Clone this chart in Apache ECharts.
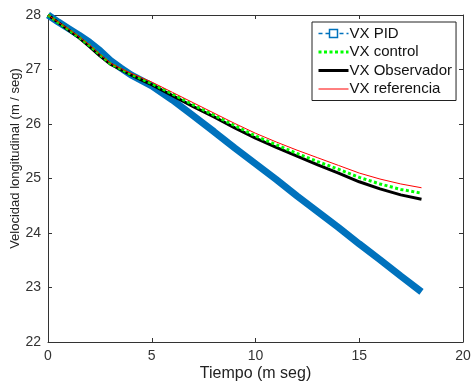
<!DOCTYPE html>
<html>
<head>
<meta charset="utf-8">
<script src="https://cdn.jsdelivr.net/npm/echarts@6/dist/echarts.min.js"></script>
<style>html,body{margin:0;padding:0;background:#fff}#c{width:472px;height:387px}</style>
</head>
<body>
<div id="c"></div>
<script>
const times = [0,0.5,1,1.5,2,2.5,3,3.5,4,4.5,5,6,7,8,9,10,11,12,13,14,15,16,17,18];
const vxPID = [28,27.87,27.75,27.63,27.5,27.35,27.17,27.03,26.9,26.8,26.7,26.44,26.15,25.86,25.56,25.27,24.98,24.68,24.39,24.1,23.8,23.51,23.21,22.92];
const vxControl = [28,27.86,27.73,27.59,27.44,27.27,27.11,27.01,26.91,26.83,26.74,26.55,26.35,26.16,25.97,25.78,25.62,25.46,25.31,25.17,25.02,24.9,24.8,24.73];
const vxObservador = [28,27.86,27.72,27.58,27.42,27.25,27.1,27.0,26.9,26.81,26.72,26.52,26.32,26.13,25.93,25.74,25.57,25.41,25.25,25.1,24.94,24.81,24.7,24.62];
const vxReferencia = [28,27.87,27.74,27.6,27.45,27.28,27.12,27.02,26.93,26.85,26.77,26.58,26.39,26.2,26.01,25.83,25.67,25.52,25.38,25.24,25.1,24.99,24.9,24.83];
const names = ['VX PID','VX control','VX Observador','VX referencia'];
const xTicks = [0,5,10,15,20];
const yTicks = [22,23,24,25,26,27,28];

const pairs = arr => times.map((t,i)=>[t,arr[i]]);
const font = 'Arial, "Liberation Sans", sans-serif';
const chart = echarts.init(document.getElementById('c'));
const axisCommon = {
  axisLine:{show:true,onZero:false,lineStyle:{color:'#333',width:1}},
  axisTick:{show:true,inside:true,length:4,lineStyle:{color:'#333'}},
  splitLine:{show:false}
};
chart.setOption({
  animation:false,
  grid:{left:48,top:15,right:9,bottom:45,show:false,outerBoundsMode:'none',containLabel:false},
  legend:{
    orient:'vertical', left:312, top:22, padding:[4,4,4,5],
    backgroundColor:'#fff', borderColor:'#222', borderWidth:1,
    itemWidth:30, itemHeight:10, itemGap:3.5,
    textStyle:{fontFamily:font,fontSize:15,color:'#111',padding:[0,0,0,-4]},
    data:[
      {name:names[0], lineStyle:{width:1.5,type:[4,3]}, itemStyle:{color:'#fff',borderColor:'#0072bd',borderWidth:1.5}},
      {name:names[1], lineStyle:{width:3,type:[3,2.5]}, itemStyle:{opacity:0}},
      {name:names[2], lineStyle:{width:3}, itemStyle:{opacity:0}},
      {name:names[3], lineStyle:{width:1}, itemStyle:{opacity:0}}
    ]
  },
  xAxis:[
    Object.assign({type:'value',min:0,max:20,interval:5,position:'bottom',
      name:'Tiempo (m seg)',nameLocation:'middle',nameGap:24,nameMoveOverlap:false,
      nameTextStyle:{fontFamily:font,fontSize:16,color:'#222'},
      axisLabel:{fontFamily:font,fontSize:14,color:'#333',margin:7,
        formatter:v=>xTicks.includes(v)?String(v):''}},axisCommon),
    Object.assign({type:'value',min:0,max:20,interval:5,position:'top',axisLabel:{show:false}},axisCommon)
  ],
  yAxis:[
    Object.assign({type:'value',min:22,max:28,interval:1,position:'left',
      name:'Velocidad longitudinal (m / seg)',nameLocation:'middle',nameGap:26,nameMoveOverlap:false,
      nameTextStyle:{fontFamily:font,fontSize:13,color:'#222',padding:[0,0,0,40]},
      axisLabel:{fontFamily:font,fontSize:14,color:'#333',margin:7,
        formatter:v=>yTicks.includes(v)?String(v):''}},axisCommon),
    Object.assign({type:'value',min:22,max:28,interval:1,position:'right',axisLabel:{show:false}},axisCommon)
  ],
  series:[
    {name:names[0],type:'line',data:pairs(vxPID),symbol:'rect',symbolSize:5,showSymbol:false,
      color:'#0072bd',lineStyle:{color:'#0072bd',width:7},z:1},
    {name:names[1],type:'line',data:pairs(vxControl),symbol:'none',
      color:'#00ff00',lineStyle:{color:'#00ff00',width:3,type:[3,2.5]},z:3},
    {name:names[2],type:'line',data:pairs(vxObservador),symbol:'none',
      color:'#000',lineStyle:{color:'#000',width:3},z:2},
    {name:names[3],type:'line',data:pairs(vxReferencia),symbol:'none',
      color:'#ff0000',lineStyle:{color:'#ff0000',width:1},z:4}
  ]
});
</script>
</body>
</html>
